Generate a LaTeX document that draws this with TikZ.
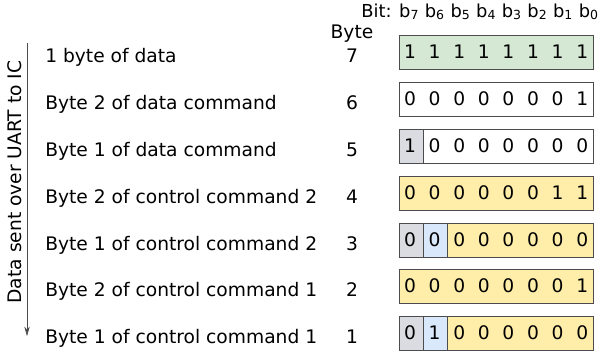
\documentclass[tikz,border=0pt]{standalone}
\usepackage{fontspec}
\setmainfont{DejaVu Sans}
\usetikzlibrary{arrows.meta}

\definecolor{datagreen}{RGB}{213,232,212}
\definecolor{ctrlyellow}{RGB}{255,238,170}
\definecolor{flaggray}{RGB}{218,220,225}
\definecolor{flagblue}{RGB}{218,232,252}

\begin{document}
\begin{tikzpicture}[x=0.75pt,y=-0.75pt,
bytebox/.style={draw=black!70,
  minimum width=145.5pt,
  minimum height=25.5pt,
  inner sep=0pt
},
flagcell/.style={draw=black!70,
  minimum width=18.2pt,
  minimum height=25.5pt,
  inner sep=0pt
},
bitdigit/.style={inner sep=0pt,node font=\fontsize{14}{16}\selectfont},
rowlabel/.style={anchor=base west,inner sep=0pt,node font=\fontsize{14}{16}\selectfont},
bytenum/.style={anchor=base,inner sep=0pt,node font=\fontsize{14}{16}\selectfont}
]
\useasboundingbox (0,0) rectangle (601,358);

\node (bits) [anchor=base east,inner sep=0pt,font=\fontsize{13.4}{16}\selectfont] at (599,17)
  {Bit: b\textsubscript{7} b\textsubscript{6} b\textsubscript{5} b\textsubscript{4} b\textsubscript{3} b\textsubscript{2} b\textsubscript{1} b\textsubscript{0}};
\node (bytehead) [bytenum] at (352,38) {Byte};

% the rows, top to bottom
\node (l7) [rowlabel] at (45,62) {1 byte of data};
\node (l6) [rowlabel] at (45,109) {Byte 2 of data command};
\node (l5) [rowlabel] at (45,156) {Byte 1 of data command};
\node (l4) [rowlabel] at (45,203) {Byte 2 of control command 2};
\node (l3) [rowlabel] at (45,250) {Byte 1 of control command 2};
\node (l2) [rowlabel] at (45,296) {Byte 2 of control command 1};
\node (l1) [rowlabel] at (45,343) {Byte 1 of control command 1};

\foreach \n/\y in {7/62,6/109,5/156,4/203,3/250,2/296,1/343}
  \node (n\n) [bytenum] at (352,\y) {\n};

\node (r7) [bytebox,fill=datagreen] at (496,52) {};
\node (r6) [bytebox,fill=white] at (496,99) {};
\node (r5) [bytebox,fill=white] at (496,146) {};
\node (r4) [bytebox,fill=ctrlyellow] at (496,193) {};
\node (r3) [bytebox,fill=ctrlyellow] at (496,240) {};
\node (r2) [bytebox,fill=ctrlyellow] at (496,286) {};
\node (r1) [bytebox,fill=ctrlyellow] at (496,333) {};

\node (r5c7) [flagcell,fill=flaggray] at (411,146) {};
\node (r3c7) [flagcell,fill=flaggray] at (411,240) {};
\node (r3c6) [flagcell,fill=flagblue] at (435,240) {};
\node (r1c7) [flagcell,fill=flaggray] at (411,333) {};
\node (r1c6) [flagcell,fill=flagblue] at (435,333) {};

\foreach \r/\y/\bits in {7/52/{1,1,1,1,1,1,1,1},6/99/{0,0,0,0,0,0,0,1},
  5/146/{1,0,0,0,0,0,0,0},4/193/{0,0,0,0,0,0,1,1},3/240/{0,0,0,0,0,0,0,0},
  2/286/{0,0,0,0,0,0,0,1},1/333/{0,1,0,0,0,0,0,0}}
  \foreach \b [count=\i from 0] in \bits
    \node (d\r\i) [bitdigit] at (410+24.6*\i,\y) {\b};

% direction of sending
\coordinate (top) at (27,43);
\coordinate (bottom) at (27,336);
\draw [black!70,-{Stealth[length=7pt,width=4pt]}] (top) to (bottom);
\node (sent) [rotate=90,inner sep=0pt,font=\fontsize{14}{16}\selectfont] at (15,182) {Data sent over UART to IC};
\end{tikzpicture}
\end{document}
